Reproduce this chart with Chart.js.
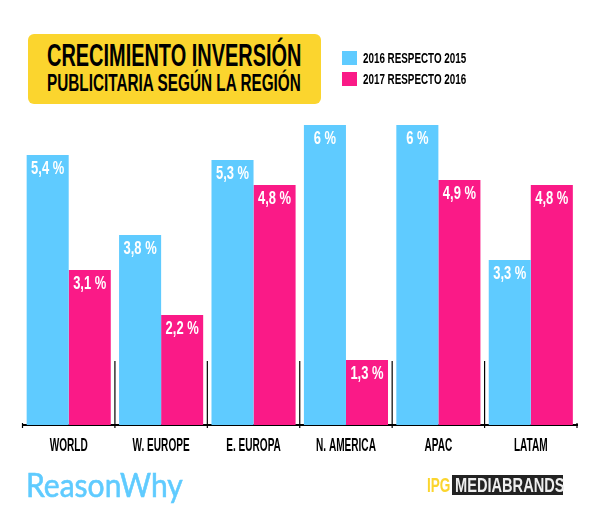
<!DOCTYPE html>
<html>
<head>
<meta charset="utf-8">
<script src="https://cdn.jsdelivr.net/npm/chart.js@4"></script>
<style>
  html, body { margin: 0; padding: 0; background: #fff; }
  #wrap { position: relative; width: 600px; height: 515px; overflow: hidden; font-family: 'Liberation Sans', sans-serif; font-weight: bold; color: #000; }
  #wrap canvas { position: absolute; left: 0; top: 0; }
  .abs { position: absolute; white-space: nowrap; transform-origin: 0 0; }
  #titleBox { position: absolute; left: 28px; top: 34px; width: 293px; height: 70px; background: #fbd52e; border-radius: 6px; }
  .swatch { position: absolute; left: 342px; width: 15px; height: 14px; }
  #logo1 { left: 26px; top: 464px; font-family: Lato, sans-serif; font-weight: normal; font-size: 33px; line-height: 40px; color: #5fcbff; -webkit-text-stroke: 0.6px #5fcbff; transform: scaleX(0.91); }
  #ipg { left: 427px; top: 474px; font-size: 20px; line-height: 22px; color: #fbd52e; transform: scaleX(0.68); }
  #mediaBox { position: absolute; left: 452px; top: 475px; width: 111px; height: 20px; background: #222; }
  #media { left: 455px; top: 474px; font-size: 20px; line-height: 22px; color: #eee; transform: scaleX(0.73); }
</style>
</head>
<body>
<div id="wrap">
  <canvas id="chart" width="600" height="515"></canvas>
  <div id="titleBox"></div>
  <div class="abs" style="left:47px;top:37px;font-size:32px;line-height:36px;transform:scaleX(0.623)">CRECIMIENTO INVERSIÓN</div>
  <div class="abs" style="left:47px;top:69px;font-size:24px;line-height:28px;transform:scaleX(0.638)">PUBLICITARIA SEGÚN LA REGIÓN</div>
  <div class="swatch" style="top:51px;background:#5fcbff"></div>
  <div class="swatch" style="top:72px;background:#fa1a87"></div>
  <div class="abs" style="left:363px;top:49px;font-size:15px;line-height:18px;transform:scaleX(0.656)">2016 RESPECTO 2015</div>
  <div class="abs" style="left:363px;top:70px;font-size:15px;line-height:18px;transform:scaleX(0.656)">2017 RESPECTO 2016</div>
  <div class="abs" id="logo1">ReasonWhy</div>
  <div class="abs" id="ipg">IPG</div>
  <div id="mediaBox"></div>
  <div class="abs" id="media">MEDIABRANDS</div>
</div>
<script>
// Values
const regions = ['WORLD', 'W. EUROPE', 'E. EUROPA', 'N. AMERICA', 'APAC', 'LATAM'];
const growth2016 = [5.4, 3.8, 5.3, 6, 6, 3.3];
const growth2017 = [3.1, 2.2, 4.8, 1.3, 4.9, 4.8];
const seriesNames = ['2016 RESPECTO 2015', '2017 RESPECTO 2016'];

const baseFont = "'Liberation Sans', sans-serif";

// No narrow font installed, so squeeze the text horizontally
function drawCondensed(ctx, text, x, y, squeeze) {
  ctx.save();
  ctx.translate(x, y);
  ctx.scale(squeeze, 1);
  ctx.fillText(text, 0, 0);
  ctx.restore();
}

// White value labels just inside the top of each bar
const barLabels = {
  id: 'barLabels',
  afterDatasetsDraw(chart) {
    const ctx = chart.ctx;
    ctx.save();
    ctx.fillStyle = '#fff';
    ctx.font = 'bold 18px ' + baseFont;
    ctx.textAlign = 'center';
    ctx.textBaseline = 'middle';
    chart.data.datasets.forEach((ds, i) => {
      chart.getDatasetMeta(i).data.forEach((bar, j) => {
        const text = String(ds.data[j]).replace('.', ',') + ' %';
        drawCondensed(ctx, text, bar.x, bar.y + 14, 0.72);
      });
    });
    ctx.restore();
  }
};

// Category names under the axis and separators between the groups
const axisMarks = {
  id: 'axisMarks',
  afterDraw(chart) {
    const ctx = chart.ctx;
    const xScale = chart.scales.x;
    const bottom = chart.chartArea.bottom;
    const step = xScale.getPixelForValue(1) - xScale.getPixelForValue(0);
    ctx.save();
    ctx.strokeStyle = '#000';
    ctx.lineWidth = 1.2;
    for (let i = 0; i <= regions.length; i++) {
      const x = xScale.getPixelForValue(0) - step / 2 + step * i;
      const isEnd = i === 0 || i === regions.length;
      ctx.beginPath();
      ctx.moveTo(x, bottom - (isEnd ? 2 : 64));
      ctx.lineTo(x, bottom + 3);
      ctx.stroke();
    }
    ctx.fillStyle = '#000';
    ctx.font = 'bold 18px ' + baseFont;
    ctx.textAlign = 'center';
    ctx.textBaseline = 'middle';
    regions.forEach((name, i) => {
      drawCondensed(ctx, name, xScale.getPixelForValue(i), bottom + 21, 0.56);
    });
    ctx.restore();
  }
};

new Chart(document.getElementById('chart'), {
  type: 'bar',
  data: {
    labels: regions,
    datasets: [{
      label: seriesNames[0],
      data: growth2016,
      backgroundColor: '#5fcbff'
    }, {
      label: seriesNames[1],
      data: growth2017,
      backgroundColor: '#fa1a87'
    }]
  },
  options: {
    responsive: false,
    animation: false,
    categoryPercentage: 0.91,
    barPercentage: 1,
    layout: { padding: { left: 22.5, right: 23, top: 125, bottom: 82 } },
    plugins: {
      legend: { display: false },
      title: { display: false },
      tooltip: { enabled: false }
    },
    scales: {
      x: {
        grid: { display: false },
        border: { display: true, color: '#000', width: 2 },
        ticks: { display: false }
      },
      y: {
        display: false,
        min: 0,
        max: 6
      }
    }
  },
  plugins: [barLabels, axisMarks]
});
</script>
</body>
</html>
